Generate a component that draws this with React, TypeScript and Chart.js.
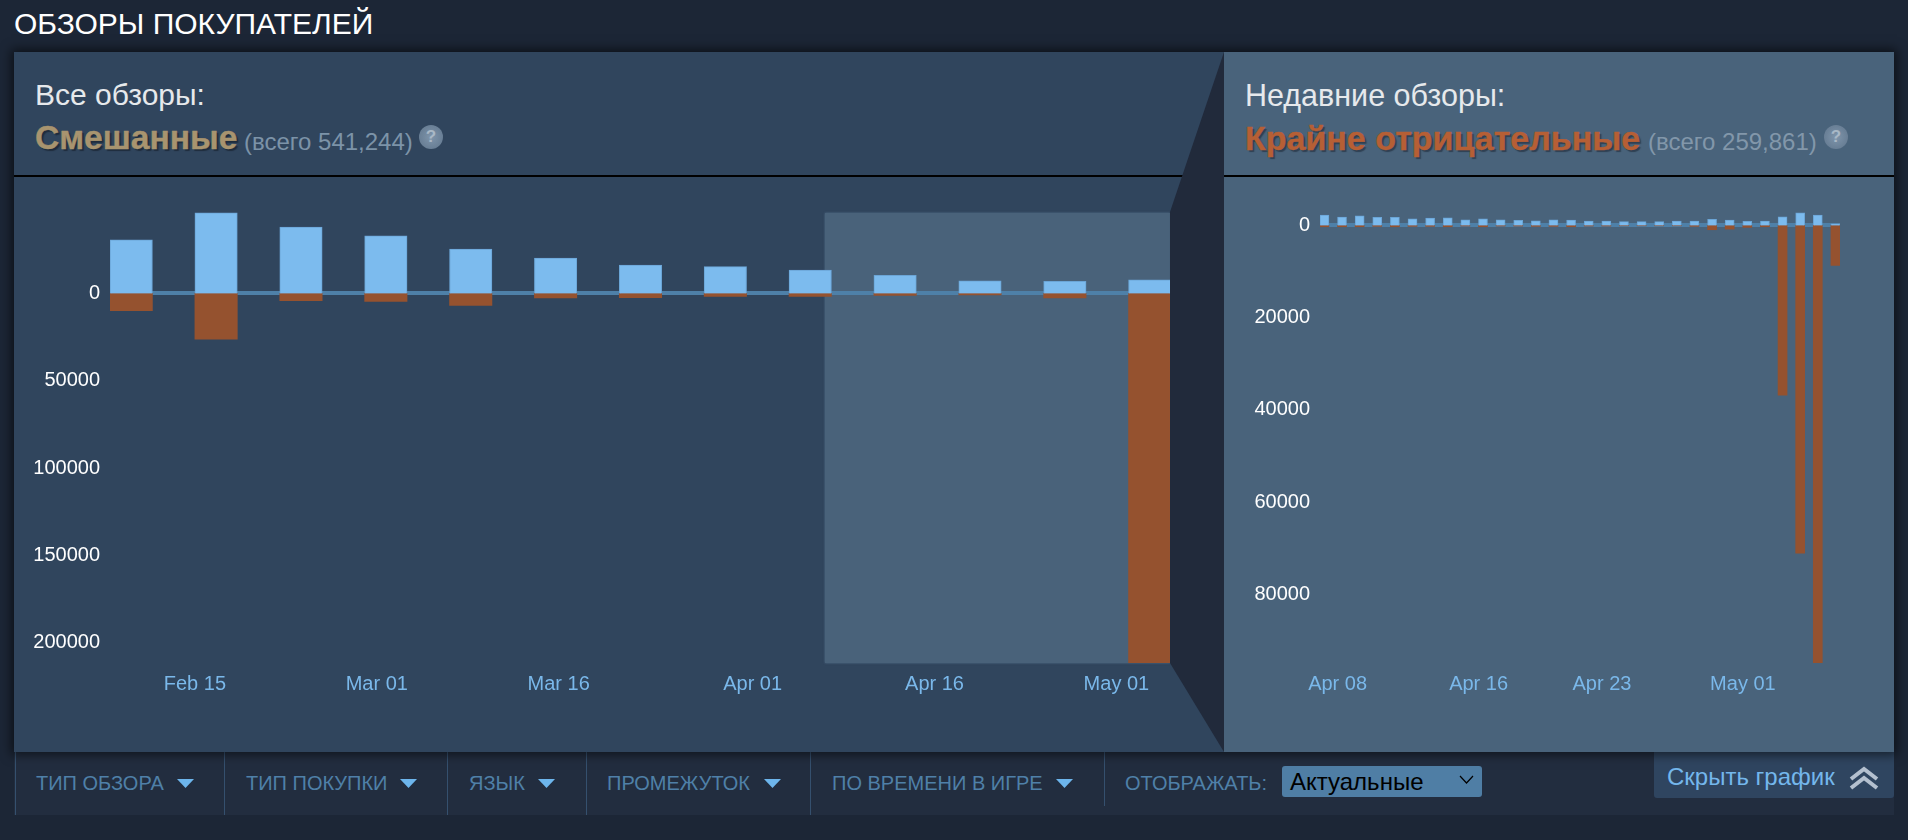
import React, { useEffect, useRef } from "react";
import { Chart, registerables } from "chart.js";

Chart.register(...registerables);

// All reviews: weekly buckets, x = days after Feb 15 (bar centre)
const allDays = [-5.25, 1.75, 8.75, 15.75, 22.75, 29.75, 36.75, 43.75, 50.75, 57.75, 64.75, 71.75, 78.75];
const allUp = [30750, 46200, 38000, 33000, 25400, 20300, 16250, 15300, 13400, 10300, 7270, 6870, 7850];
const allDown = [-9900, -26200, -4180, -4580, -6870, -2630, -2460, -1720, -1720, -1150, -900, -2630, -211500];
const allXTicks = [0, 15, 30, 46, 61, 76];
const allXLabels = ["Feb 15", "Mar 01", "Mar 16", "Apr 01", "Apr 16", "May 01"];
const allYTicks = [0, -50000, -100000, -150000, -200000];
const allYLabels = ["0", "50000", "100000", "150000", "200000"];

// Recent reviews: daily buckets, x = days after Apr 08 (bar centre)
const recentDays = [-0.75, 0.25, 1.25, 2.25, 3.25, 4.25, 5.25, 6.25, 7.25, 8.25, 9.25, 10.25, 11.25, 12.25, 13.25, 14.25, 15.25, 16.25, 17.25, 18.25, 19.25, 20.25, 21.25, 22.25, 23.25, 24.25, 25.25, 26.25, 27.25, 28.25];
const recentUp = [2240, 1800, 2100, 1735, 1735, 1450, 1590, 1660, 1230, 1450, 1230, 1085, 1010, 1230, 1160, 940, 940, 800, 800, 800, 940, 940, 1300, 1160, 870, 940, 1880, 2750, 2240, 360];
const recentDown = [-290, -290, -290, -220, -290, -220, -220, -290, -150, -290, -150, -150, -220, -220, -290, -150, -150, -100, -100, -100, -100, -220, -940, -800, -430, -290, -36830, -71100, -94860, -8680];
const recentXTicks = [0, 8, 15, 23];
const recentXLabels = ["Apr 08", "Apr 16", "Apr 23", "May 01"];
const recentYTicks = [0, -20000, -40000, -60000, -80000];
const recentYLabels = ["0", "20000", "40000", "60000", "80000"];

const filterLabels = ["ТИП ОБЗОРА", "ТИП ПОКУПКИ", "ЯЗЫК", "ПРОМЕЖУТОК", "ПО ВРЕМЕНИ В ИГРЕ"];
const filterX = [36, 246, 469, 607, 832];
const arrowX = [177, 400, 538, 764, 1056];
const dividerX = [15, 224, 447, 586, 810, 1104];

const FONT = '"Liberation Sans", Arial, sans-serif';
const BLUE = "#7cbbee";
const BROWN = "#95522f";
const ZERO = "#4e80a8";

type Cfg = {
  days: number[]; up: number[]; down: number[];
  xTicks: number[]; xLabels: string[]; yTicks: number[]; yLabels: string[];
  xMin: number; xMax: number; yMin: number; yMax: number; barPx: number;
};

const zeroLine = {
  id: "zeroLine",
  beforeDatasetsDraw(chart: any) {
    const { ctx, chartArea, scales } = chart;
    const y = Math.round(scales.y.getPixelForValue(0));
    ctx.save();
    ctx.fillStyle = ZERO;
    ctx.fillRect(chartArea.left, y - 2, chartArea.right - chartArea.left, 4);
    ctx.restore();
  },
};

function makeChart(canvas: HTMLCanvasElement, c: Cfg) {
  return new Chart(canvas, {
    type: "bar",
    plugins: [zeroLine],
    data: {
      datasets: [
        { data: c.days.map((x, i) => ({ x, y: c.up[i] })), backgroundColor: BLUE, borderColor: "#6ba5d6", borderWidth: 1, barThickness: c.barPx } as any,
        { data: c.days.map((x, i) => ({ x, y: c.down[i] })), backgroundColor: BROWN, barThickness: c.barPx } as any,
      ],
    },
    options: {
      responsive: false,
      animation: false,
      layout: { padding: 0 },
      plugins: { legend: { display: false }, tooltip: { enabled: false } },
      scales: {
        x: {
          type: "linear", stacked: true, offset: false, min: c.xMin, max: c.xMax,
          grid: { display: false }, border: { display: false },
          afterBuildTicks: (s: any) => { s.ticks = c.xTicks.map((value) => ({ value })); },
          afterFit: (s: any) => { s.height = 50; s.paddingLeft = 0; s.paddingRight = 0; },
          ticks: {
            autoSkip: false, maxRotation: 0, color: "#7ab8ea", padding: 1,
            font: { family: FONT, size: 20 },
            callback: (_v: any, i: number) => c.xLabels[i],
          },
        },
        y: {
          type: "linear", stacked: true, min: c.yMin, max: c.yMax,
          border: { display: false },
          grid: { display: false, drawTicks: false },
          afterBuildTicks: (s: any) => { s.ticks = c.yTicks.map((value) => ({ value })); },
          afterFit: (s: any) => { s.width = 96; s.paddingTop = 0; s.paddingBottom = 0; },
          ticks: {
            autoSkip: false, color: "#ffffff", padding: 10,
            font: { family: FONT, size: 20 },
            callback: (_v: any, i: number) => c.yLabels[i],
          },
        },
      },
    } as any,
  });
}

const T = ({ x, y, size, color, bold, shadow, children, w }: any) => (
  <div style={{
    position: "absolute", left: x, top: y, transform: "translateY(-50%)", fontSize: size, color,
    fontWeight: bold ? 700 : 400, whiteSpace: "nowrap", lineHeight: 1, textShadow: shadow, width: w,
    WebkitTextStroke: bold ? "0.4px currentColor" : undefined,
  }}>{children}</div>
);

const Box = ({ x, y, w, h, bg, style }: any) => (
  <div style={{ position: "absolute", left: x, top: y, width: w, height: h, background: bg, ...style }} />
);

const Help = ({ x, y }: any) => (
  <div style={{
    position: "absolute", left: x - 12, top: y - 12, width: 24, height: 24, borderRadius: 12,
    background: "radial-gradient(circle at 50% 50%, #7f95ab 0%, #5f758c 100%)", color: "#a9b8c6",
    fontSize: 17, fontWeight: 700, textAlign: "center", lineHeight: "24px",
  }}>?</div>
);

export default function App() {
  const a = useRef<HTMLCanvasElement>(null);
  const b = useRef<HTMLCanvasElement>(null);
  useEffect(() => {
    const c1 = makeChart(a.current!, {
      days: allDays, up: allUp, down: allDown, xTicks: allXTicks, xLabels: allXLabels,
      yTicks: allYTicks, yLabels: allYLabels, xMin: -7, xMax: 80.42, yMin: -211670, yMax: 46630, barPx: 42.4,
    });
    const c2 = makeChart(b.current!, {
      days: recentDays, up: recentUp, down: recentDown, xTicks: recentXTicks, xLabels: recentXLabels,
      yTicks: recentYTicks, yLabels: recentYLabels, xMin: -1, xMax: 28.51, yMin: -94925, yMax: 2905, barPx: 9,
    });
    return () => { c1.destroy(); c2.destroy(); };
  }, []);

  return (
    <div style={{ position: "fixed", left: 0, top: 0, width: 1908, height: 840, overflow: "hidden", background: "#1c2636", fontFamily: FONT }}>
      <T x={14} y={24} size={30} color="#ffffff">ОБЗОРЫ ПОКУПАТЕЛЕЙ</T>

      {/* filter bar */}
      <Box x={14} y={752} w={1880} h={63} bg="#222d3f" />
      {dividerX.map((x, i) => <Box key={x} x={x} y={752} w={1} h={i === 5 ? 54 : 63} bg="#35506e" />)}
      {filterLabels.map((s, i) => <T key={s} x={filterX[i]} y={783} size={20} color="#4f80a8">{s}</T>)}
      {arrowX.map((x) => (
        <Box key={x} x={x} y={779} w={17} h={9} bg="#6db5ec" style={{ clipPath: "polygon(0 0,100% 0,50% 100%)" }} />
      ))}
      <T x={1125} y={783} size={20} color="#4f80a8">ОТОБРАЖАТЬ:</T>
      <Box x={1282} y={766} w={200} h={31} bg="#4f7ea5" style={{ borderRadius: 3 }} />
      <T x={1290} y={782} size={24} color="#000000">Актуальные</T>
      <svg style={{ position: "absolute", left: 1459, top: 775 }} width="15" height="10">
        <path d="M1 1 L7.5 8 L14 1" stroke="#000" strokeWidth="1.2" fill="none" />
      </svg>
      <Box x={1654} y={752} w={240} h={46} bg="#2f4560" style={{ borderRadius: "0 0 3px 3px" }} />
      <T x={1667} y={777} size={24} color="#74b7ec">Скрыть график</T>
      <svg style={{ position: "absolute", left: 1849, top: 766 }} width="30" height="24">
        <path d="M2 13 L15 3 L28 13 M2 22 L15 12 L28 22" stroke="#b4c0cf" strokeWidth="4" fill="none" />
      </svg>

      {/* panels */}
      <Box x={14} y={52} w={1880} h={700} bg="#30455d" style={{ boxShadow: "0 0 10px 3px rgba(0,0,0,0.55)" }} />
      <Box x={825} y={213} w={345} h={450} bg="#49627a" style={{ boxShadow: "0 0 2px rgba(90,120,150,0.8)" }} />
      <Box x={14} y={175} w={1200} h={2} bg="#000000" />
      <Box x={1150} y={52} w={74} h={700} bg="#212a3b"
        style={{ clipPath: "polygon(100% 0, 27% 22.86%, 27% 87.29%, 100% 100%)" }} />
      <Box x={1224} y={52} w={670} h={700} bg="#49637b" />
      <Box x={1224} y={175} w={670} h={2} bg="#000000" />

      {/* headings */}
      <T x={35} y={95} size={30} color="#e6e9ec">Все обзоры:</T>
      <T x={35} y={138} size={33.6} bold color="#a8946f" shadow="2px 2px 1px rgba(20,28,40,0.6)">Смешанные</T>
      <T x={244} y={142} size={24} color="#7c93a8">(всего 541,244)</T>
      <Help x={431} y={137} />
      <T x={1245} y={95} size={30.5} color="#e6e9ec">Недавние обзоры:</T>
      <T x={1245} y={138} size={34} bold color="#b65f35" shadow="2px 2px 1px rgba(30,42,56,0.6)">Крайне отрицательные</T>
      <T x={1648} y={142} size={24} color="#8297aa">(всего 259,861)</T>
      <Help x={1836} y={137} />

      <canvas ref={a} width={1156} height={501} style={{ position: "absolute", left: 14, top: 212, width: 1156, height: 501 }} />
      <canvas ref={b} width={616} height={501} style={{ position: "absolute", left: 1224, top: 212, width: 616, height: 501 }} />
    </div>
  );
}
